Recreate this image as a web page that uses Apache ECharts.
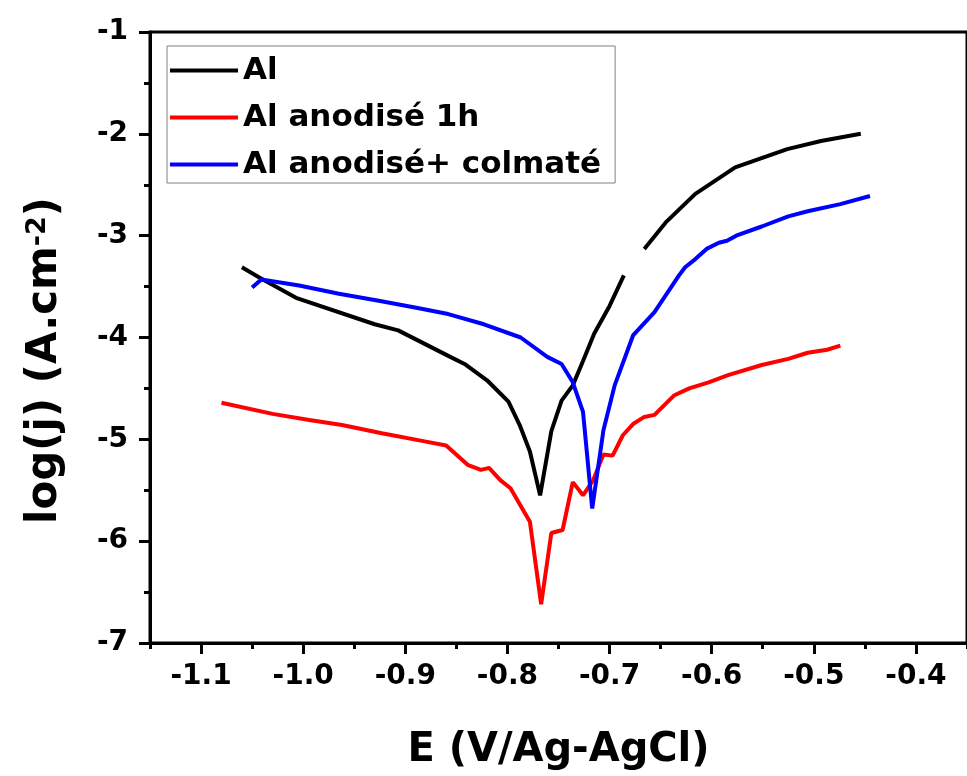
<!DOCTYPE html>
<html>
<head>
<meta charset="utf-8">
<script src="https://cdn.jsdelivr.net/npm/echarts@6/dist/echarts.min.js"></script>
<style>
  html, body { margin: 0; padding: 0; background: #fff; }
  #chart { width: 967px; height: 776px; }
</style>
</head>
<body>
<div id="chart"></div>
<script>
// potentiel E (V/Ag-AgCl) et log(j)
var alE = [-1.060, -1.043, -1.007, -0.930, -0.907, -0.856, -0.842, -0.820, -0.799, -0.788, -0.778, -0.768,
  -0.757, -0.747, -0.736, -0.726, -0.715, -0.700, -0.686, -0.676, -0.666, -0.645, -0.616, -0.577, -0.526, -0.493, -0.454];
var alLog = [-3.31, -3.41, -3.61, -3.87, -3.93, -4.19, -4.26, -4.42, -4.63, -4.86, -5.12, -5.55,
  -4.92, -4.62, -4.47, -4.23, -3.96, -3.69, -3.39, null, -3.13, -2.87, -2.59, -2.33, -2.15, -2.07, -2.00];

var anodE = [-1.080, -1.030, -0.994, -0.962, -0.923, -0.881, -0.860, -0.839, -0.826, -0.818, -0.807, -0.797,
  -0.778, -0.767, -0.757, -0.746, -0.736, -0.726, -0.716, -0.706, -0.697, -0.687, -0.677, -0.666, -0.656,
  -0.637, -0.622, -0.603, -0.584, -0.551, -0.525, -0.506, -0.487, -0.474];
var anodLog = [-4.64, -4.75, -4.81, -4.86, -4.94, -5.02, -5.06, -5.25, -5.30, -5.28, -5.40, -5.48,
  -5.81, -6.62, -5.92, -5.89, -5.42, -5.55, -5.40, -5.15, -5.16, -4.96, -4.85, -4.78, -4.76,
  -4.57, -4.50, -4.44, -4.37, -4.27, -4.21, -4.15, -4.12, -4.08];

var colmE = [-1.050, -1.041, -1.004, -0.965, -0.926, -0.888, -0.858, -0.823, -0.787, -0.761, -0.747, -0.736,
  -0.726, -0.717, -0.706, -0.695, -0.677, -0.656, -0.632, -0.626, -0.616, -0.605, -0.593, -0.585, -0.576,
  -0.551, -0.525, -0.506, -0.474, -0.445];
var colmLog = [-3.51, -3.43, -3.49, -3.57, -3.64, -3.71, -3.77, -3.87, -4.00, -4.19, -4.26, -4.44,
  -4.73, -5.68, -4.91, -4.47, -3.98, -3.75, -3.39, -3.31, -3.23, -3.13, -3.07, -3.05, -3.00,
  -2.91, -2.81, -2.76, -2.69, -2.61];

var seriesNames = ['Al', 'Al anodisé 1h', 'Al anodisé+ colmaté'];
var xMajorTicks = [-1.1, -1.0, -0.9, -0.8, -0.7, -0.6, -0.5, -0.4];

var FONT = 'DejaVu Sans';

function pairs(xs, ys) {
  var out = [];
  for (var i = 0; i < xs.length; i++) {
    out.push([xs[i], ys[i] === null ? '-' : ys[i]]);
  }
  return out;
}

function lineSerie(name, color, width, data) {
  return {
    name: name,
    type: 'line',
    symbol: 'none',
    showSymbol: false,
    connectNulls: false,
    lineStyle: { color: color, width: width },
    itemStyle: { color: color },
    data: data
  };
}

var chart = echarts.init(document.getElementById('chart'));

var option = {
  backgroundColor: '#ffffff',
  animation: false,
  grid: {
    left: 150,
    top: 32,
    right: -8,
    bottom: 131,
    show: true,
    borderColor: '#000',
    borderWidth: 3
  },
  legend: {
    orient: 'vertical',
    left: 167,
    top: 46,
    itemWidth: 68,
    itemHeight: 30,
    itemGap: 16,
    padding: [9, 14, 3, 1],
    borderColor: '#808080',
    borderWidth: 1,
    itemStyle: { color: 'transparent', borderWidth: 0 },
    lineStyle: { width: 4 },
    textStyle: { fontFamily: FONT, fontWeight: 'bold', fontSize: 31, color: '#000' },
    data: seriesNames
  },
  xAxis: [{
    type: 'value',
    min: -1.15,
    max: -0.35,
    interval: 0.05,
    position: 'bottom',
    axisLine: { onZero: false, lineStyle: { color: '#000', width: 3 } },
    axisTick: { show: true, length: 6, lineStyle: { color: '#000', width: 3 } },
    splitLine: { show: false },
    axisLabel: {
      customValues: xMajorTicks,
      margin: 20,
      color: '#000',
      fontFamily: FONT,
      fontWeight: 'bold',
      fontSize: 28,
      formatter: function (v) { return v.toFixed(1); }
    },
    name: 'E (V/Ag-AgCl)',
    nameLocation: 'middle',
    nameGap: 88,
    nameTextStyle: { fontFamily: FONT, fontWeight: 'bold', fontSize: 40, color: '#000' }
  }, {
    type: 'value',
    min: -1.15,
    max: -0.35,
    position: 'bottom',
    axisLine: { show: false, onZero: false },
    axisTick: { show: true, customValues: xMajorTicks, length: 11, lineStyle: { color: '#000', width: 3 } },
    axisLabel: { show: false },
    splitLine: { show: false }
  }],
  yAxis: {
    type: 'value',
    min: -7,
    max: -1,
    interval: 1,
    axisLine: { onZero: false, lineStyle: { color: '#000', width: 3 } },
    axisTick: { show: true, length: 11, lineStyle: { color: '#000', width: 3 } },
    minorTick: { show: true, splitNumber: 2, length: 6, lineStyle: { color: '#000', width: 3 } },
    splitLine: { show: false },
    axisLabel: {
      margin: 22,
      color: '#000',
      fontFamily: FONT,
      fontWeight: 'bold',
      fontSize: 28
    },
    name: '{a|log(j) (A.cm}{b|-2}{a|)}',
    nameLocation: 'middle',
    nameGap: 84,
    nameTextStyle: {
      color: '#000',
      padding: [0, 46, 0, 0],
      rich: {
        a: { fontFamily: FONT, fontWeight: 'bold', fontSize: 42, color: '#000' },
        b: { fontFamily: FONT, fontWeight: 'bold', fontSize: 27, color: '#000', verticalAlign: 'top', padding: [0, 0, 14, 0] }
      }
    }
  },
  series: [
    lineSerie(seriesNames[0], '#000000', 4, pairs(alE, alLog)),
    lineSerie(seriesNames[1], '#ff0000', 4, pairs(anodE, anodLog)),
    lineSerie(seriesNames[2], '#0000ff', 4, pairs(colmE, colmLog))
  ]
};

chart.setOption(option);
</script>
</body>
</html>
